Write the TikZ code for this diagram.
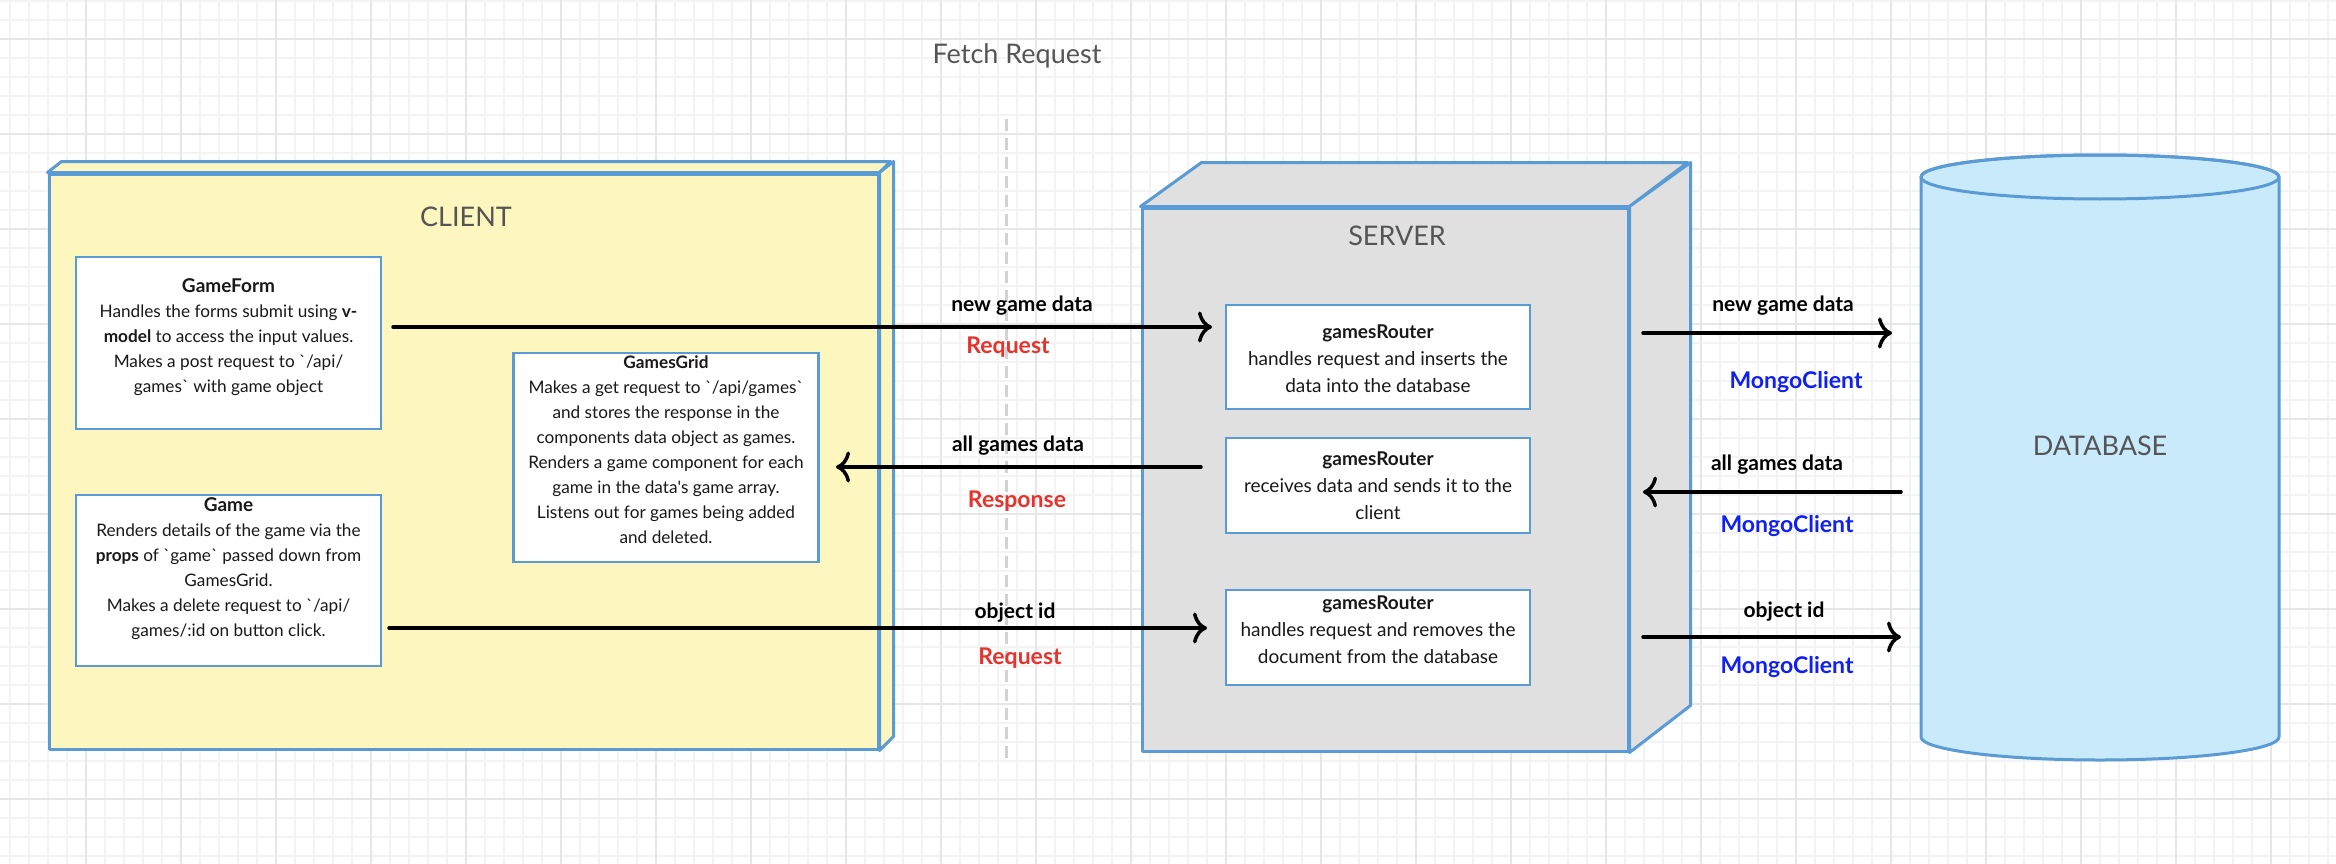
\documentclass[tikz,border=0pt]{standalone}
\usepackage{fontspec}
\setmainfont{Lato}
\usetikzlibrary{arrows.meta}
\definecolor{bord}{HTML}{5B9BD5}
\definecolor{clfill}{HTML}{FDF6BE}
\definecolor{svfill}{HTML}{E0E0E0}
\definecolor{dbfill}{HTML}{C8EAFA}
\definecolor{titlegray}{HTML}{555555}
\definecolor{reqred}{HTML}{E8322B}
\definecolor{mongoblue}{HTML}{1020F0}
\definecolor{gridminor}{HTML}{F3F3F3}
\definecolor{gridmajor}{HTML}{E6E6E6}
\definecolor{dashgray}{HTML}{D2D2D2}
\newcommand{\boxhead}[1]{{\fontsize{19}{25}\selectfont\bfseries #1}}
\tikzset{
  cubeedge/.style={draw=bord, line width=3pt, line join=round},
  box/.style={draw=bord, line width=2.5pt, fill=white, inner sep=0pt, outer sep=0pt},
  ctext/.style={inner sep=0pt, align=center, text=black!90, font=\fontsize{17.2}{25}\selectfont},
  stext/.style={inner sep=0pt, align=center, text=black!90, font=\fontsize{19}{27}\selectfont},
  lbl/.style={inner sep=0pt, text=black, font=\fontsize{21}{24}\selectfont\bfseries},
  redlbl/.style={inner sep=0pt, text=reqred, font=\fontsize{23}{26}\selectfont\bfseries},
  bluelbl/.style={inner sep=0pt, text=mongoblue, font=\fontsize{23}{26}\selectfont\bfseries},
  title/.style={inner sep=0pt, text=titlegray, font=\fontsize{27}{30}\selectfont},
  arr/.style={line width=3.5pt, -{Computer Modern Rightarrow[length=14pt,width=31pt,line width=3.5pt]}, line cap=round},
}
\begin{document}
\begin{tikzpicture}[x=1pt,y=-1pt]
\useasboundingbox (0,0) rectangle (2336,864);
\fill[white] (0,0) rectangle (2336,864);
% grid
\foreach \gx in {10,29,...,2336} \draw[gridminor, line width=1.2pt] (\gx,0) -- (\gx,864);
\foreach \gy in {1,20,...,864} \draw[gridminor, line width=1.2pt] (0,\gy) -- (2336,\gy);
\foreach \gx in {86,181,...,2336} \draw[gridmajor, line width=1.4pt] (\gx,0) -- (\gx,864);
\foreach \gy in {39,134,...,864} \draw[gridmajor, line width=1.4pt] (0,\gy) -- (2336,\gy);

% title and divider
\node[title] (fetch) at (1017,56) {Fetch Request};
\coordinate (divtop) at (1006,119);
\coordinate (divbot) at (1006,761);
\draw[dashgray, line width=3pt, dash pattern=on 12pt off 7pt] (divtop) -- (divbot);

% CLIENT cube
\node[cubeedge, fill=clfill, minimum width=829pt, minimum height=575pt, inner sep=0pt] (client) at (463.5,461.5) {};
\draw[cubeedge, fill=clfill] (client.north west) -- ++(14,-11) -- ++(829,0) -- (client.north east) -- cycle;
\draw[cubeedge, fill=clfill] (client.north east) -- ++(14,-11) -- ++(0,575) -- (client.south east) -- cycle;
\node[title] (clienttitle) at (466,217) {CLIENT};

% SERVER cube
\node[cubeedge, fill=svfill, minimum width=486pt, minimum height=543pt, inner sep=0pt] (server) at (1385,479.5) {};
\draw[cubeedge, fill=svfill] (server.north west) -- ++(61,-44) -- ++(486,0) -- (server.north east) -- cycle;
\draw[cubeedge, fill=svfill] (server.north east) -- ++(61,-44) -- ++(0,543) -- (server.south east) -- cycle;
\node[title] (servertitle) at (1397,236) {SERVER};

% DATABASE cylinder
\draw[cubeedge, fill=dbfill] (1921,177) -- (1921,737) arc[start angle=180, end angle=360, x radius=179pt, y radius=23pt] -- (2279,177) arc[start angle=0, end angle=180, x radius=179pt, y radius=22pt] -- cycle;
\draw[cubeedge] (2100,177) ellipse[x radius=179pt, y radius=22pt];
\node[title] (dbtitle) at (2100,446) {DATABASE};

% client boxes
\node[box, minimum width=305pt, minimum height=172pt] (gameform) at (228.5,343) {};
\node[ctext] (gameformtext) at (228.5,337) {\boxhead{GameForm}\\Handles the forms submit using \textbf{v-}\\\textbf{model} to access the input values.\\Makes a post request to \textasciigrave/api/\\games\textasciigrave{} with game object};
\node[box, minimum width=305pt, minimum height=171pt] (game) at (228.5,580.5) {};
\node[ctext] (gametext) at (228.5,569) {\boxhead{Game}\\Renders details of the game via the\\\textbf{props} of \textasciigrave game\textasciigrave{} passed down from\\GamesGrid.\\Makes a delete request to \textasciigrave/api/\\games/:id on button click.};
\node[box, minimum width=305pt, minimum height=209pt] (gamesgrid) at (666,457.5) {};
\node[ctext] (gamesgridtext) at (666,450) {\textbf{GamesGrid}\\Makes a get request to \textasciigrave/api/games\textasciigrave\\and stores the response in the\\components data object as games.\\Renders a game component for each\\game in the data\textquotesingle s game array.\\Listens out for games being added\\and deleted.};

% server boxes
\node[box, minimum width=304pt, minimum height=104pt] (r1) at (1378,357) {};
\node[stext] (r1text) at (1378,359) {\textbf{gamesRouter}\\handles request and inserts the\\data into the database};
\node[box, minimum width=304pt, minimum height=95pt] (r2) at (1378,485.5) {};
\node[stext] (r2text) at (1378,486) {\textbf{gamesRouter}\\receives data and sends it to the\\client};
\node[box, minimum width=304pt, minimum height=95pt] (r3) at (1378,637.5) {};
\node[stext] (r3text) at (1378,630) {\textbf{gamesRouter}\\handles request and removes the\\document from the database};

% client <-> server arrows
\coordinate (a1s) at (393,327);
\coordinate (a1e) at (1212,327);
\draw[arr] (a1s) -- (a1e);
\node[lbl] (l1) at (1022,306) {new game data};
\node[redlbl] (q1) at (1008,347) {Request};

\coordinate (a2s) at (1201,467);
\coordinate (a2e) at (836,467);
\draw[arr] (a2s) -- (a2e);
\node[lbl] (l2) at (1018,446) {all games data};
\node[redlbl] (q2) at (1017,501) {Response};

\coordinate (a3s) at (389,628);
\coordinate (a3e) at (1207,628);
\draw[arr] (a3s) -- (a3e);
\node[lbl] (l3) at (1015,613) {object id};
\node[redlbl] (q3) at (1020,658) {Request};

% server <-> database arrows
\coordinate (b1s) at (1643,333);
\coordinate (b1e) at (1892,333);
\draw[arr] (b1s) -- (b1e);
\node[lbl] (m1) at (1783,306) {new game data};
\node[bluelbl] (c1) at (1796,382) {MongoClient};

\coordinate (b2s) at (1901,492);
\coordinate (b2e) at (1643,492);
\draw[arr] (b2s) -- (b2e);
\node[lbl] (m2) at (1777,465) {all games data};
\node[bluelbl] (c2) at (1787,526) {MongoClient};

\coordinate (b3s) at (1643,637);
\coordinate (b3e) at (1901,637);
\draw[arr] (b3s) -- (b3e);
\node[lbl] (m3) at (1784,612) {object id};
\node[bluelbl] (c3) at (1787,667) {MongoClient};
\end{tikzpicture}
\end{document}
